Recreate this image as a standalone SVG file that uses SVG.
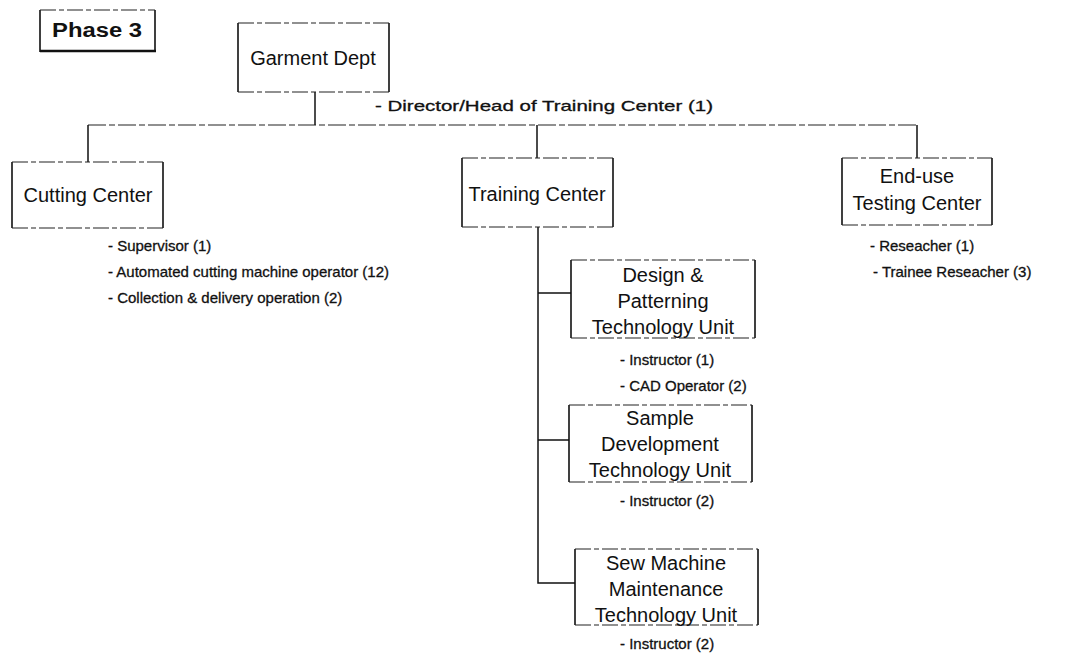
<svg xmlns="http://www.w3.org/2000/svg" width="1073" height="658" viewBox="0 0 1073 658">
<style>
.box{fill:#fff;stroke:none}
.side{stroke:#111;stroke-width:1.6;fill:none}
.edge{stroke:#222;stroke-width:1.2;fill:none;stroke-dasharray:16 3 5 3}
.node{font-family:"Liberation Sans",Arial,sans-serif;font-size:20px;fill:#111;text-anchor:middle}
.lbl{font-family:"Liberation Sans",Arial,sans-serif;font-size:15px;fill:#111;stroke:#111;stroke-width:0.3}
.conn{stroke:#111;stroke-width:1.5;fill:none}
.dash{stroke:#222;stroke-width:1.2;fill:none;stroke-dasharray:18 3 6 3}
</style>
<rect width="1073" height="658" fill="#fff"/>
<g id="phase3">
<rect class="box" x="40" y="10" width="115" height="42"/>
<path class="side" d="M40 10 V52 M155 10 V52"/>
<path class="edge" d="M40 10 H155"/>
<path stroke="#111" stroke-width="2.5" d="M40 51 H156"/>
<text x="97" y="37" font-family="Liberation Sans,Arial,sans-serif" font-size="20" font-weight="bold" text-anchor="middle" fill="#111" textLength="90" lengthAdjust="spacingAndGlyphs">Phase 3</text>
</g>
<g id="connectors">
<path class="conn" d="M315 92 V125"/>
<path class="dash" d="M88 125 H917"/>
<path class="conn" d="M88 125 V162 M537 125 V158 M917 125 V158"/>
<path class="conn" d="M538 227 V583 H575 M538 293 H571 M538 440 H569"/>
</g>
<g id="garment">
<rect class="box" x="238" y="23" width="151" height="69"/>
<path class="side" d="M238 23 V92 M389 23 V92"/>
<path class="edge" d="M238 23 H389 M238 92 H389"/>
<text class="node" x="313" y="65">Garment Dept</text>
</g>
<g id="director">
<text class="lbl" x="375" y="111" font-size="18" textLength="338" lengthAdjust="spacingAndGlyphs">- Director/Head of Training Center (1)</text>
</g>
<g id="cutting">
<rect class="box" x="12" y="162" width="151" height="66"/>
<path class="side" d="M12 162 V228 M163 162 V228"/>
<path class="edge" d="M12 162 H163 M12 228 H163"/>
<text class="node" x="88" y="202">Cutting Center</text>
<text class="lbl" x="108" y="251">- Supervisor (1)</text>
<text class="lbl" x="108" y="277">- Automated cutting machine operator (12)</text>
<text class="lbl" x="108" y="303">- Collection &amp; delivery operation (2)</text>
</g>
<g id="training">
<rect class="box" x="462" y="158" width="151" height="69"/>
<path class="side" d="M462 158 V227 M613 158 V227"/>
<path class="edge" d="M462 158 H613 M462 227 H613"/>
<text class="node" x="537" y="201">Training Center</text>
</g>
<g id="enduse">
<rect class="box" x="842" y="158" width="150" height="67"/>
<path class="side" d="M842 158 V225 M992 158 V225"/>
<path class="edge" d="M842 158 H992 M842 225 H992"/>
<text class="node" x="917" y="183">End-use</text>
<text class="node" x="917" y="210">Testing Center</text>
<text class="lbl" x="870" y="251">- Reseacher (1)</text>
<text class="lbl" x="873" y="277">- Trainee Reseacher (3)</text>
</g>
<g id="design">
<rect class="box" x="571" y="260" width="184" height="78"/>
<path class="side" d="M571 260 V338 M755 260 V338"/>
<path class="edge" d="M571 260 H755 M571 338 H755"/>
<text class="node" x="663" y="282">Design &amp;</text>
<text class="node" x="663" y="308">Patterning</text>
<text class="node" x="663" y="334">Technology Unit</text>
<text class="lbl" x="620" y="365">- Instructor (1)</text>
<text class="lbl" x="620" y="391">- CAD Operator (2)</text>
</g>
<g id="sample">
<rect class="box" x="569" y="405" width="183" height="77"/>
<path class="side" d="M569 405 V482 M752 405 V482"/>
<path class="edge" d="M569 405 H752 M569 482 H752"/>
<text class="node" x="660" y="425">Sample</text>
<text class="node" x="660" y="451">Development</text>
<text class="node" x="660" y="477">Technology Unit</text>
<text class="lbl" x="620" y="506">- Instructor (2)</text>
</g>
<g id="sew">
<rect class="box" x="575" y="549" width="183" height="76"/>
<path class="side" d="M575 549 V625 M758 549 V625"/>
<path class="edge" d="M575 549 H758 M575 625 H758"/>
<text class="node" x="666" y="570">Sew Machine</text>
<text class="node" x="666" y="596">Maintenance</text>
<text class="node" x="666" y="622">Technology Unit</text>
<text class="lbl" x="620" y="649">- Instructor (2)</text>
</g>
</svg>
